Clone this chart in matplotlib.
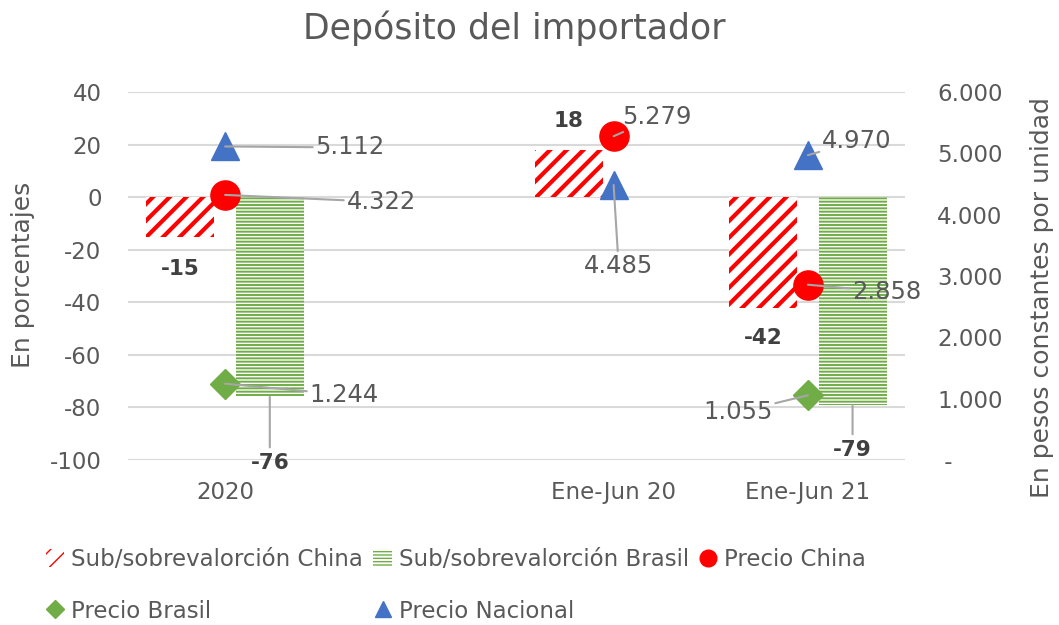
import numpy as np
import matplotlib.pyplot as plt
from matplotlib.patches import Patch
from matplotlib.lines import Line2D
from matplotlib.ticker import FuncFormatter

plt.rcParams['font.family'] = ['DejaVu Sans']
plt.rcParams['axes.unicode_minus'] = False

categories = ['2020', '', 'Ene-Jun 20', 'Ene-Jun 21']
sub_china = [-15, np.nan, 18, -42]
sub_brasil = [-76, np.nan, np.nan, -79]
precio_china = [4322, np.nan, 5279, 2858]
precio_brasil = [1244, np.nan, np.nan, 1055]
precio_nacional = [5112, np.nan, 4485, 4970]

GRAY = '#595959'
DARK = '#404040'
LEAD = '#a6a6a6'
RED = '#ff0000'
GREEN = '#70ad47'
BLUE = '#4472c4'

fig = plt.figure(figsize=(10.59, 6.25), dpi=100)
ax = fig.add_axes([128 / 1059, 1 - 460 / 625, 777 / 1059, 368 / 625])
ax2 = ax.twinx()

x = np.arange(len(categories))
w = 0.35
off = 0.23

with plt.rc_context({'hatch.linewidth': 3.0}):
    bars_c = ax.bar(x - off, sub_china, w, facecolor='white', edgecolor=RED,
                    hatch='//', linewidth=0, zorder=2)
with plt.rc_context({'hatch.linewidth': 1.4}):
    bars_b = ax.bar(x + off, sub_brasil, w, facecolor='white', edgecolor=GREEN,
                    hatch='-----', linewidth=0, zorder=2)

ax.set_xlim(-0.5, len(categories) - 0.5)
ax.set_ylim(-100, 40)
ax.set_yticks(np.arange(-100, 41, 20))
ax.set_xticks(x)
ax.set_xticklabels(categories)
ax.grid(axis='y', color='#d9d9d9', linewidth=1.5, zorder=0)
ax.set_axisbelow(True)

ax2.set_ylim(0, 6000)
ax2.set_yticks(np.arange(0, 6001, 1000))
ax2.yaxis.set_major_formatter(FuncFormatter(
    lambda v, p: ' -' if v == 0 else f'{v:,.0f}'.replace(',', '.')))

for a in (ax, ax2):
    for s in a.spines.values():
        s.set_visible(False)
    a.tick_params(length=0, labelsize=16.5, labelcolor=GRAY)
ax.tick_params(axis='y', pad=19)
ax.tick_params(axis='x', pad=15)
ax2.tick_params(axis='y', pad=23)

ax2.plot(x, precio_nacional, '^', color=BLUE, markersize=20, linestyle='none', zorder=4)
ax2.plot(x, precio_china, 'o', color=RED, markersize=21, linestyle='none', zorder=5)
ax2.plot(x, precio_brasil, 'D', color=GREEN, markersize=15, linestyle='none', zorder=5)

fig.text(23 / 1059, 1 - 275 / 625, 'En porcentajes', rotation=90, fontsize=18,
         color=GRAY, ha='center', va='center')
fig.text(1042 / 1059, 1 - 298 / 625, 'En pesos constantes por unidad', rotation=90,
         fontsize=18, color=GRAY, ha='center', va='center')

fig.text(514 / 1059, 1 - 28 / 625, 'Depósito del importador', fontsize=25,
         color=GRAY, ha='center', va='center')

def fmt(v):
    return f'{v:,.0f}'.replace(',', '.')

# price labels (offsets in pixels from marker)
price_offsets = {
    ('nac', 0): (125, -1), ('chi', 0): (156, -7), ('bra', 0): (119, -11),
    ('chi', 2): (43, 19), ('nac', 2): (5, -81),
    ('nac', 3): (49, 14), ('chi', 3): (79, -7), ('bra', 3): (-70, -17),
}
series = {'nac': precio_nacional, 'chi': precio_china, 'bra': precio_brasil}
for (key, i), (dx, dy) in price_offsets.items():
    v = series[key][i]
    ax2.annotate(fmt(v), xy=(x[i], v), xytext=(dx, dy), textcoords='offset pixels',
                 ha='center', va='center', fontsize=17.5, color=GRAY, zorder=6,
                 arrowprops=dict(arrowstyle='-', color=LEAD, lw=1.5,
                                 shrinkA=0, shrinkB=0))

# bar labels
bar_offsets = [
    (bars_c, 0, -32, False), (bars_c, 2, 29, False), (bars_c, 3, -30, False),
    (bars_b, 0, -66, True), (bars_b, 3, -45, True),
]
for bars, i, dy, lead in bar_offsets:
    r = bars[i]
    v = r.get_height()
    xc = r.get_x() + r.get_width() / 2
    ap = dict(arrowstyle='-', color=LEAD, lw=1.5, shrinkA=2, shrinkB=0) if lead else None
    ax.annotate(f'{v:.0f}', xy=(xc, v), xytext=(0, dy), textcoords='offset pixels',
                ha='center', va='center', fontsize=15.5, fontweight='bold',
                color=DARK, arrowprops=ap, zorder=6)

h_c = Patch(facecolor='white', edgecolor=RED, hatch='//', linewidth=0)
h_b = Patch(facecolor='white', edgecolor=GREEN, hatch='-----', linewidth=0)
h_pc = Line2D([], [], marker='o', color=RED, linestyle='none', markersize=12)
h_pb = Line2D([], [], marker='D', color=GREEN, linestyle='none', markersize=9)
h_pn = Line2D([], [], marker='^', color=BLUE, linestyle='none', markersize=12)
fig.legend([h_c, h_pb, h_b, h_pn, h_pc],
           ['Sub/sobrevalorción China', 'Precio Brasil', 'Sub/sobrevalorción Brasil',
            'Precio Nacional', 'Precio China'],
           ncol=3, loc='upper left', bbox_to_anchor=(46 / 1059, 1 - 548 / 625),
           frameon=False, fontsize=16.5, labelcolor=GRAY, handlelength=0.8,
           handleheight=0.8, handletextpad=0.3, columnspacing=0.45,
           labelspacing=1.25, borderpad=0, borderaxespad=0)

fig.savefig('out.png', dpi=100)
